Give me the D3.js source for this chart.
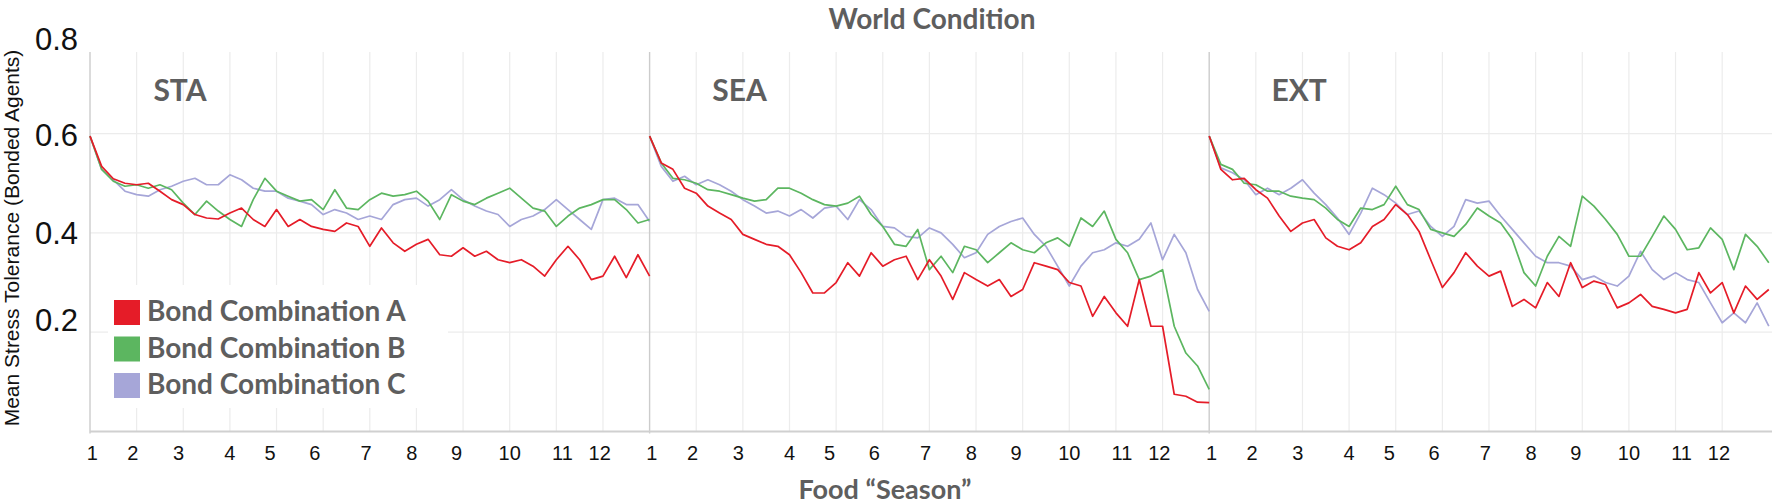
<!DOCTYPE html>
<html>
<head>
<meta charset="utf-8">
<style>
  body { margin: 0; background: #fff; }
  svg { display: block; }
</style>
</head>
<body>
<div id="container"></div>
<script src="https://d3js.org/d3.v7.min.js"></script>
<script>

// Panels (world conditions) and series (bond combinations)
const panels = ["STA", "SEA", "EXT"];
const seriesNames = ["Bond Combination A", "Bond Combination B", "Bond Combination C"];

// Sample positions along each panel, in gridline units (12 per panel)
const steps = [0, 0.25, 0.5, 0.75, 1, 1.25, 1.5, 1.75, 2, 2.25, 2.5, 2.75, 3, 3.25, 3.5, 3.75,
  4, 4.25, 4.5, 4.75, 5, 5.25, 5.5, 5.75, 6, 6.25, 6.5, 6.75, 7, 7.25, 7.5, 7.75,
  8, 8.25, 8.5, 8.75, 9, 9.25, 9.5, 9.75, 10, 10.25, 10.5, 10.75, 11, 11.25, 11.5, 11.75, 12];

// Mean stress tolerance
const staA = [0.595, 0.534, 0.509, 0.500, 0.497, 0.500, 0.484, 0.467, 0.457, 0.437, 0.430, 0.428, 0.440, 0.450, 0.427, 0.413,
  0.447, 0.413, 0.427, 0.413, 0.407, 0.403, 0.420, 0.413, 0.373, 0.410, 0.380, 0.363, 0.377, 0.387, 0.356, 0.353,
  0.370, 0.353, 0.363, 0.346, 0.340, 0.346, 0.333, 0.313, 0.346, 0.373, 0.346, 0.306, 0.313, 0.353, 0.310, 0.356, 0.313];
const staB = [0.595, 0.528, 0.504, 0.494, 0.497, 0.490, 0.497, 0.487, 0.460, 0.437, 0.464, 0.444, 0.427, 0.413, 0.467, 0.510,
  0.484, 0.474, 0.464, 0.467, 0.447, 0.487, 0.450, 0.447, 0.467, 0.480, 0.474, 0.477, 0.484, 0.464, 0.427, 0.477,
  0.464, 0.457, 0.470, 0.480, 0.490, 0.470, 0.450, 0.444, 0.413, 0.434, 0.450, 0.457, 0.467, 0.467, 0.447, 0.420, 0.427];
const staC = [0.595, 0.528, 0.507, 0.484, 0.477, 0.474, 0.487, 0.494, 0.504, 0.510, 0.497, 0.497, 0.517, 0.507, 0.490, 0.484,
  0.484, 0.470, 0.464, 0.457, 0.437, 0.447, 0.440, 0.427, 0.434, 0.427, 0.457, 0.467, 0.470, 0.454, 0.467, 0.487,
  0.467, 0.454, 0.444, 0.437, 0.413, 0.427, 0.434, 0.447, 0.467, 0.447, 0.427, 0.407, 0.467, 0.470, 0.457, 0.457, 0.423];

const seaA = [0.595, 0.541, 0.528, 0.490, 0.480, 0.454, 0.440, 0.427, 0.397, 0.387, 0.377, 0.373, 0.356, 0.320, 0.279, 0.279,
  0.300, 0.340, 0.313, 0.360, 0.333, 0.346, 0.353, 0.306, 0.346, 0.313, 0.266, 0.320, 0.306, 0.293, 0.306, 0.272,
  0.286, 0.340, 0.333, 0.326, 0.300, 0.293, 0.232, 0.272, 0.239, 0.212, 0.306, 0.212, 0.212, 0.075, 0.071, 0.059, 0.058];
const seaB = [0.595, 0.541, 0.510, 0.507, 0.500, 0.487, 0.484, 0.477, 0.470, 0.464, 0.467, 0.490, 0.490, 0.480, 0.467, 0.457,
  0.454, 0.460, 0.474, 0.437, 0.413, 0.377, 0.373, 0.407, 0.326, 0.353, 0.320, 0.373, 0.366, 0.340, 0.360, 0.380,
  0.366, 0.360, 0.380, 0.390, 0.373, 0.430, 0.413, 0.444, 0.387, 0.360, 0.306, 0.313, 0.326, 0.212, 0.158, 0.132, 0.085];
const seaC = [0.595, 0.534, 0.504, 0.514, 0.497, 0.507, 0.497, 0.484, 0.467, 0.454, 0.440, 0.444, 0.434, 0.447, 0.430, 0.450,
  0.454, 0.427, 0.467, 0.447, 0.413, 0.410, 0.393, 0.390, 0.410, 0.400, 0.377, 0.350, 0.360, 0.397, 0.413, 0.423,
  0.430, 0.397, 0.373, 0.333, 0.293, 0.333, 0.360, 0.366, 0.380, 0.373, 0.387, 0.420, 0.346, 0.397, 0.360, 0.286, 0.242];

const extA = [0.595, 0.528, 0.507, 0.510, 0.487, 0.470, 0.434, 0.403, 0.420, 0.427, 0.390, 0.373, 0.366, 0.380, 0.413, 0.427,
  0.457, 0.437, 0.403, 0.346, 0.290, 0.320, 0.360, 0.333, 0.313, 0.323, 0.252, 0.266, 0.249, 0.300, 0.272, 0.340,
  0.290, 0.303, 0.296, 0.249, 0.259, 0.276, 0.252, 0.246, 0.239, 0.246, 0.320, 0.279, 0.300, 0.239, 0.293, 0.266, 0.286];
const extB = [0.595, 0.538, 0.528, 0.500, 0.497, 0.484, 0.484, 0.474, 0.470, 0.467, 0.450, 0.427, 0.413, 0.450, 0.447, 0.457,
  0.494, 0.457, 0.447, 0.407, 0.400, 0.393, 0.417, 0.450, 0.434, 0.420, 0.387, 0.320, 0.293, 0.353, 0.393, 0.373,
  0.474, 0.454, 0.427, 0.397, 0.353, 0.353, 0.393, 0.434, 0.407, 0.366, 0.370, 0.410, 0.387, 0.326, 0.397, 0.373, 0.340];
const extC = [0.595, 0.531, 0.521, 0.507, 0.477, 0.490, 0.477, 0.490, 0.507, 0.480, 0.457, 0.430, 0.397, 0.440, 0.490, 0.477,
  0.460, 0.437, 0.444, 0.413, 0.393, 0.413, 0.467, 0.460, 0.464, 0.434, 0.407, 0.380, 0.353, 0.340, 0.340, 0.333,
  0.306, 0.313, 0.300, 0.293, 0.313, 0.363, 0.326, 0.306, 0.320, 0.306, 0.300, 0.259, 0.219, 0.239, 0.219, 0.259, 0.212];

const panelValues = [[staA, staB, staC], [seaA, seaB, seaC], [extA, extB, extC]];

// Axis labels
const seasonLabels = ["1", "2", "3", "4", "5", "6", "7", "8", "9", "10", "11", "12"];
const seasonLabelAt = [0.05, 0.92, 1.9, 3.0, 3.86, 4.82, 5.92, 6.9, 7.86, 9.0, 10.13, 10.93];
const yTickValues = [0.8, 0.6, 0.4, 0.2];
const yGridValues = [0.2, 0.4, 0.6];
const gridSteps = [1, 2, 3, 4, 5, 6, 7, 8, 9, 10, 11];

// Layout
const width = 1772;
const height = 504;
const marginLeft = 90;
const panelWidth = 559.6;
const plotTop = 52;
const colors = ["#e51c28", "#5cb660", "#a6a6d8"];
const grayText = "#5e5e5e";
const titleFont = "Lato, 'Open Sans', sans-serif";
const numFont = "'Liberation Sans', Arial, sans-serif";

const y = d3.scaleLinear().domain([0, 0.8]).range([431.5, 34.3]);

const svg = d3.create("svg")
    .attr("width", width)
    .attr("height", height);

// x scale per panel
const xs = panels.map((p, i) => d3.scaleLinear()
    .domain([0, 12])
    .range([marginLeft + i * panelWidth, marginLeft + (i + 1) * panelWidth]));

// horizontal gridlines
svg.append("g")
  .selectAll("line")
  .data(yGridValues)
  .join("line")
    .attr("x1", marginLeft)
    .attr("x2", width)
    .attr("y1", d => y(d))
    .attr("y2", d => y(d))
    .attr("stroke", "#ececec")
    .attr("stroke-width", 1.2);

// vertical gridlines and panel dividers
panels.forEach((p, i) => {
  const x = xs[i];
  const g = svg.append("g");
  g.selectAll("line.grid")
    .data(gridSteps)
    .join("line")
      .attr("class", "grid")
      .attr("x1", d => x(d))
      .attr("x2", d => x(d))
      .attr("y1", plotTop)
      .attr("y2", y(0))
      .attr("stroke", "#ececec")
      .attr("stroke-width", 1.2);
  g.append("line")
      .attr("x1", x(0))
      .attr("x2", x(0))
      .attr("y1", plotTop)
      .attr("y2", y(0) + 2)
      .attr("stroke", "#cccccc")
      .attr("stroke-width", 1.4);
});

// bottom axis line
svg.append("line")
    .attr("x1", marginLeft)
    .attr("x2", width)
    .attr("y1", y(0))
    .attr("y2", y(0))
    .attr("stroke", "#d0d0d0")
    .attr("stroke-width", 2);

// legend background hides the grid behind it
svg.append("rect")
    .attr("x", 108)
    .attr("y", 285)
    .attr("width", 340)
    .attr("height", 123)
    .attr("fill", "#fff");

// lines
panels.forEach((p, i) => {
  const x = xs[i];
  const line = d3.line()
      .x((d, j) => x(steps[j]))
      .y(d => y(d));
  const vals = panelValues[i];
  [2, 1, 0].forEach(k => {
    svg.append("path")
        .attr("fill", "none")
        .attr("stroke", colors[k])
        .attr("stroke-width", 1.7)
        .attr("stroke-linejoin", "round")
        .attr("d", line(vals[k]));
  });

  // panel title
  svg.append("text")
      .attr("x", x(0) + 90)
      .attr("y", 101)
      .attr("text-anchor", "middle")
      .attr("font-family", titleFont)
      .attr("font-weight", "bold")
      .attr("font-size", 30)
      .attr("fill", grayText)
      .text(p);

  // season tick labels
  svg.append("g")
    .selectAll("text")
    .data(seasonLabels)
    .join("text")
      .attr("x", (d, j) => x(seasonLabelAt[j]))
      .attr("y", 460)
      .attr("text-anchor", "middle")
      .attr("font-family", numFont)
      .attr("font-size", 20)
      .attr("fill", "#111")
      .text(d => d);
});

// y tick labels
const yNudge = {0.8: 5, 0.6: 1, 0.4: 0, 0.2: -12};
svg.append("g")
  .selectAll("text")
  .data(yTickValues)
  .join("text")
    .attr("x", 78)
    .attr("y", d => y(d) + yNudge[d])
    .attr("dy", "0.36em")
    .attr("text-anchor", "end")
    .attr("font-family", numFont)
    .attr("font-size", 31)
    .attr("fill", "#111")
    .text(d => d3.format(".1f")(d));

// y axis title
svg.append("text")
    .attr("transform", `translate(19,${238}) rotate(-90)`)
    .attr("text-anchor", "middle")
    .attr("font-family", numFont)
    .attr("font-size", 21)
    .attr("fill", "#111")
    .text("Mean Stress Tolerance (Bonded Agents)");

// chart title and x title
svg.append("text")
    .attr("x", 932)
    .attr("y", 29)
    .attr("text-anchor", "middle")
    .attr("font-family", titleFont)
    .attr("font-weight", "bold")
    .attr("font-size", 28)
    .attr("fill", grayText)
    .text("World Condition");

svg.append("text")
    .attr("x", 885)
    .attr("y", 499)
    .attr("text-anchor", "middle")
    .attr("font-family", titleFont)
    .attr("font-weight", "bold")
    .attr("font-size", 27)
    .attr("fill", grayText)
    .text("Food \u201CSeason\u201D");

// legend
const legend = svg.append("g")
  .selectAll("g")
  .data(seriesNames)
  .join("g")
    .attr("transform", (d, i) => `translate(114,${300 + i * 36.5})`);
legend.append("rect")
    .attr("width", 26)
    .attr("height", 25)
    .attr("fill", (d, i) => colors[i]);
legend.append("text")
    .attr("x", 33)
    .attr("y", 21)
    .attr("font-family", titleFont)
    .attr("font-weight", "bold")
    .attr("font-size", 28)
    .attr("fill", grayText)
    .text(d => d);

container.append(svg.node());
</script>
</body>
</html>
